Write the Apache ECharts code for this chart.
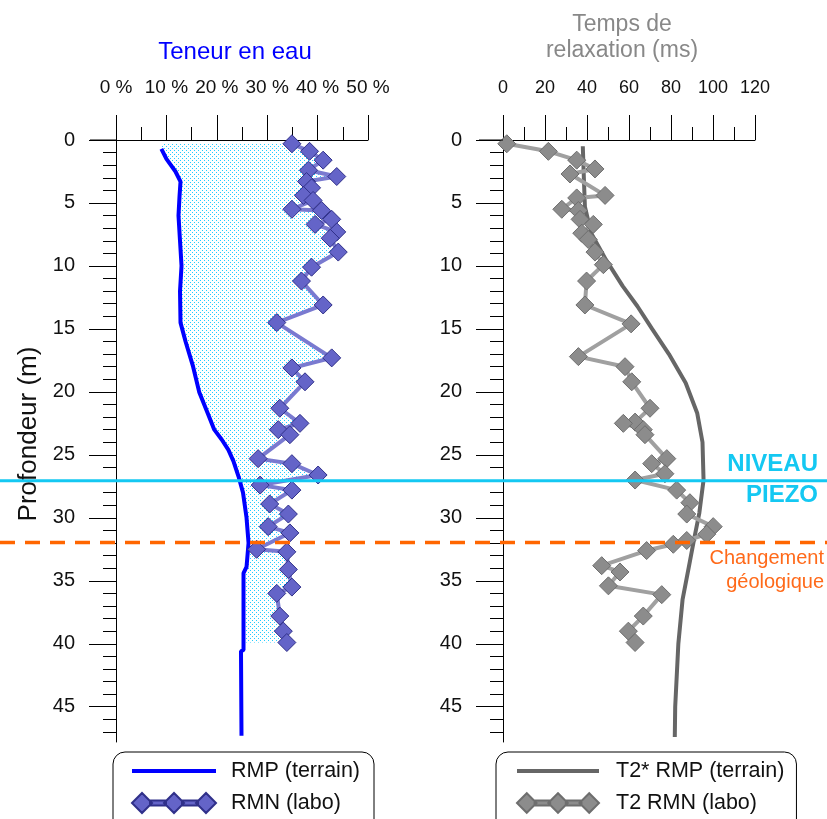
<!DOCTYPE html>
<html><head><meta charset="utf-8">
<script src="https://cdn.jsdelivr.net/npm/echarts@6/dist/echarts.min.js"></script>
<style>html,body{margin:0;padding:0;background:#fff}#c{width:827px;height:819px}</style>
</head><body><div id="c"></div>
<script>
// ---- data ----
const RMP_DEPTH = [0.7, 1.5, 2.5, 3.3, 4.5, 6, 8, 10, 12, 14.5, 16, 18, 20, 21.5, 23, 23.8, 24.6, 25.5, 26.7, 28, 30, 32, 33.9, 34.4, 40.5, 40.6, 47.3];
const RMP_WATER = [9.0, 10.0, 11.8, 12.8, 12.6, 12.4, 12.7, 13.0, 12.7, 12.8, 13.8, 15.3, 16.5, 18.0, 19.5, 21.0, 22.3, 23.3, 24.3, 25.2, 25.9, 26.3, 25.9, 25.3, 25.3, 24.8, 24.9];

const RMN_DEPTH = [0.3, 0.9, 1.6, 2.4, 2.9, 3.3, 3.8, 4.4, 4.8, 5.5, 5.6, 6.3, 6.7, 7.3, 7.8, 8.9, 10.1, 11.2, 13.1, 14.5, 17.3, 18.1, 19.2, 21.3, 22.5, 23.0, 23.4, 25.3, 25.7, 26.6, 27.4, 27.8, 28.9, 29.7, 30.7, 31.2, 32.5, 32.7, 34.1, 35.5, 36.0, 37.8, 39.0, 39.9];
const RMN_WATER = [34.9, 38.4, 41.1, 38.2, 43.8, 37.8, 38.8, 37.2, 39.1, 34.9, 40.8, 42.8, 39.5, 43.8, 42.5, 44.1, 38.8, 36.8, 41.1, 31.9, 42.8, 34.9, 37.5, 32.5, 36.5, 32.2, 34.5, 28.2, 34.9, 40.1, 28.6, 34.9, 30.5, 34.2, 30.2, 34.5, 27.9, 33.9, 34.2, 34.9, 31.9, 32.5, 33.2, 33.9];

const T2S_DEPTH = [0.5, 3, 5.3, 7.4, 9.5, 11.6, 13.2, 15, 17, 19.3, 21.7, 24, 27, 29.6, 31.7, 33.9, 36.5, 40, 45, 47.4];
const T2S_MS = [38, 38.5, 39, 42, 49, 57, 64, 71, 79, 87, 92.5, 95, 95.5, 93.5, 91, 88.5, 85.5, 83.5, 82, 81.8];

const T2_DEPTH = [0.3, 0.9, 1.6, 2.3, 2.7, 4.4, 4.6, 5.5, 5.6, 6.3, 6.7, 7.4, 7.9, 8.9, 9.9, 11.2, 13.1, 14.6, 17.2, 18.0, 19.2, 21.3, 22.4, 22.5, 23.0, 23.4, 25.3, 25.7, 26.5, 27.0, 27.8, 28.8, 29.7, 30.7, 31.3, 31.8, 32.1, 32.6, 33.8, 34.3, 35.4, 36.1, 37.8, 39.0, 39.9];
const T2_MS = [1.8, 21.6, 35.1, 43.8, 31.9, 48.6, 35.1, 28.0, 35.9, 36.7, 43.0, 37.5, 40.6, 43.8, 47.8, 39.8, 39.0, 61.0, 35.9, 58.1, 61.3, 70.0, 62.9, 57.3, 66.8, 67.6, 78.0, 70.8, 77.1, 62.9, 82.7, 89.0, 87.5, 100.1, 97.0, 87.5, 81.1, 68.4, 47.0, 55.7, 50.2, 75.6, 66.8, 59.7, 62.9];

const WATER_TICKS = [0, 10, 20, 30, 40, 50];
const T2_TICKS = [0, 20, 40, 60, 80, 100, 120];
const DEPTH_TICKS = [0, 5, 10, 15, 20, 25, 30, 35, 40, 45];
const DEPTH_MINOR = [0,1,2,3,4,5,6,7,8,9,10,11,12,13,14,15,16,17,18,19,20,21,22,23,24,25,26,27,28,29,30,31,32,33,34,35,36,37,38,39,40,41,42,43,44,45,46,47];
const DEPTH_MAX = 47.8;
const PIEZO_DEPTH = 27.05;
const GEOL_DEPTH = 31.95;
const FILL_BOTTOM = 39.9;

// ---- helpers ----
const FONT = '"Liberation Sans", Arial, sans-serif';
const zip = (a, b) => a.map((v, i) => [b[i], v]);
function interp(ds, vs, d) {
  if (d <= ds[0]) return vs[0];
  for (let i = 1; i < ds.length; i++) {
    if (d <= ds[i]) { const t = (d - ds[i-1]) / (ds[i] - ds[i-1]); return vs[i-1] + t * (vs[i] - vs[i-1]); }
  }
  return vs[vs.length - 1];
}
const pc = document.createElement('canvas'); pc.width = 4; pc.height = 4;
const g = pc.getContext('2d');
g.fillStyle = '#ffffff'; g.fillRect(0, 0, 4, 4);
g.fillStyle = '#22ccff'; g.fillRect(0, 0, 1, 1); g.fillRect(2, 2, 1, 1);

const DIAMOND3 = 'path://M0 10L10 0L20 10L10 20ZM32 10L42 0L52 10L42 20ZM64 10L74 0L84 10L74 20ZM18 7.5L34 7.5L34 12.5L18 12.5ZM50 7.5L66 7.5L66 12.5L50 12.5Z';
const LINEICON = 'path://M0 0L0.01 0L0.01 0.01ZM0 8L84 8L84 12L0 12ZM84 20L83.99 20L83.99 19.99Z';

function xAxisCfg(grid, max, interval, fmt, fs) {
  return {
    type: 'value', gridIndex: grid, position: 'top', min: 0, max: max, interval: interval,
    axisLine: { show: true, onZero: false, lineStyle: { color: '#000', width: 1 } },
    axisTick: { show: true, inside: false, length: 25, lineStyle: { color: '#000', width: 1 } },
    minorTick: { show: true, splitNumber: 2, length: 13, lineStyle: { color: '#000', width: 1 } },
    splitLine: { show: false }, minorSplitLine: { show: false },
    axisLabel: { formatter: fmt, fontSize: fs, margin: 43, color: '#111', fontFamily: FONT }
  };
}
function yMajor(grid, name) {
  return {
    type: 'value', gridIndex: grid, inverse: true, min: 0, max: DEPTH_MAX, position: 'left',
    axisLine: { show: true, onZero: false, lineStyle: { color: '#000', width: 1 } },
    axisTick: { show: true, inside: false, length: 27, customValues: DEPTH_TICKS, lineStyle: { color: '#000' } },
    axisLabel: { customValues: DEPTH_TICKS, fontSize: 20, margin: 41, color: '#111', fontFamily: FONT },
    splitLine: { show: false },
    name: name, nameLocation: 'middle', nameRotate: 90, nameGap: 74,
    nameTextStyle: { fontSize: 26, color: '#111', fontFamily: FONT, padding: [0, 0, 0, 14] }
  };
}
function yMinor(grid) {
  return {
    type: 'value', gridIndex: grid, inverse: true, min: 0, max: DEPTH_MAX, position: 'left',
    axisLine: { show: false },
    axisTick: { show: true, inside: false, length: 13, customValues: DEPTH_MINOR, lineStyle: { color: '#000' } },
    axisLabel: { show: false }, splitLine: { show: false }
  };
}

const chart = echarts.init(document.getElementById('c'), null, { renderer: 'canvas' });
const option = {
  animation: false,
  backgroundColor: '#fff',
  textStyle: { fontFamily: FONT },
  grid: [
    { left: 116, top: 140, width: 252, height: 602 },
    { left: 503, top: 140, width: 252, height: 602 }
  ],
  xAxis: [xAxisCfg(0, 50, 10, '{value} %', 19), xAxisCfg(1, 120, 20, '{value}', 18)],
  yAxis: [yMajor(0, 'Profondeur (m)'), yMinor(0), yMajor(1, ''), yMinor(1)],
  legend: [
    {
      left: 113, top: 752, height: 120, orient: 'vertical', itemWidth: 84, itemHeight: 20, itemGap: 10,
      padding: [8, 14, 20, 18], borderColor: '#000', borderWidth: 1, borderRadius: 12,
      textStyle: { fontSize: 21.5, color: '#111', fontFamily: FONT, padding: [0, 0, 0, 10] },
      data: [{ name: 'RMP (terrain)', icon: LINEICON }, { name: 'RMN (labo)', icon: DIAMOND3 }]
    },
    {
      left: 496, top: 752, height: 120, orient: 'vertical', itemWidth: 82, itemHeight: 20, itemGap: 10,
      padding: [8, 12, 20, 20], borderColor: '#000', borderWidth: 1, borderRadius: 12,
      textStyle: { fontSize: 21.5, color: '#111', fontFamily: FONT, padding: [0, 0, 0, 12] },
      data: [{ name: 'T2* RMP (terrain)', icon: LINEICON }, { name: 'T2 RMN (labo)', icon: DIAMOND3 }]
    }
  ],
  series: [
    {
      type: 'custom', name: 'fill', xAxisIndex: 0, yAxisIndex: 0, silent: true, z: 1,
      data: [[0, 0]],
      renderItem: function (params, api) {
        const top = RMN_DEPTH[0], bot = FILL_BOTTOM;
        const left = [api.coord([interp(RMP_DEPTH, RMP_WATER, top), top])];
        RMP_DEPTH.forEach((d, i) => { if (d > top && d < bot) left.push(api.coord([RMP_WATER[i], d])); });
        left.push(api.coord([interp(RMP_DEPTH, RMP_WATER, bot), bot]));
        const right = [];
        RMN_DEPTH.forEach((d, i) => { if (d <= bot) right.push(api.coord([RMN_WATER[i], d])); });
        return { type: 'polygon', shape: { points: left.concat(right.reverse()) },
                 style: { fill: { image: pc, repeat: 'repeat' }, stroke: null } };
      }
    },
    {
      type: 'line', name: 'RMP (terrain)', xAxisIndex: 0, yAxisIndex: 0, z: 3,
      data: zip(RMP_DEPTH, RMP_WATER), symbol: 'none', showSymbol: false,
      lineStyle: { color: '#0000ff', width: 4 }, itemStyle: { color: '#0000ff' }
    },
    {
      type: 'line', name: 'RMN (labo)', xAxisIndex: 0, yAxisIndex: 0, z: 4,
      data: zip(RMN_DEPTH, RMN_WATER), symbol: 'diamond', symbolSize: 18,
      lineStyle: { color: '#7a7ad0', width: 4 },
      itemStyle: { color: '#6464c8', borderColor: '#30308a', borderWidth: 1 }
    },
    {
      type: 'line', name: 'T2* RMP (terrain)', xAxisIndex: 1, yAxisIndex: 2, z: 3,
      data: zip(T2S_DEPTH, T2S_MS), symbol: 'none', showSymbol: false,
      lineStyle: { color: '#666666', width: 4 }, itemStyle: { color: '#666666' }
    },
    {
      type: 'line', name: 'T2 RMN (labo)', xAxisIndex: 1, yAxisIndex: 2, z: 4,
      data: zip(T2_DEPTH, T2_MS), symbol: 'diamond', symbolSize: 18,
      lineStyle: { color: '#a0a0a0', width: 4 },
      itemStyle: { color: '#8c8c8c', borderColor: '#6e6e6e', borderWidth: 1 }
    }
  ]
};
chart.setOption(option);

// overlays positioned through the chart's own scales
const W = chart.getWidth();
const yP = chart.convertToPixel({ yAxisIndex: 0 }, PIEZO_DEPTH);
const yG = chart.convertToPixel({ yAxisIndex: 0 }, GEOL_DEPTH);
const y0 = chart.convertToPixel({ yAxisIndex: 0 }, 0);
const xL0 = chart.convertToPixel({ xAxisIndex: 0 }, 0);
const xR0 = chart.convertToPixel({ xAxisIndex: 1 }, 0);
const xLc = (chart.convertToPixel({ xAxisIndex: 0 }, 0) + chart.convertToPixel({ xAxisIndex: 0 }, 50)) / 2;
const xRc = (chart.convertToPixel({ xAxisIndex: 1 }, 0) + chart.convertToPixel({ xAxisIndex: 1 }, 120)) / 2;
const txt = (text, x, y, color, size, align, weight) => ({
  type: 'text', x: x, y: y, z: 200,
  style: { text: text, fill: color, font: (weight || 'normal') + ' ' + size + 'px ' + FONT, textAlign: align, textVerticalAlign: 'middle' }
});
chart.setOption({
  graphic: [
    { type: 'line', z: 150, shape: { x1: xL0 - 26, y1: y0, x2: xL0, y2: y0 }, style: { stroke: '#000', lineWidth: 1 } },
    { type: 'line', z: 150, shape: { x1: xR0 - 24, y1: y0, x2: xR0, y2: y0 }, style: { stroke: '#000', lineWidth: 1 } },
    { type: 'line', z: 150, shape: { x1: 0, y1: yP, x2: W, y2: yP }, style: { stroke: '#14c8f2', lineWidth: 3 } },
    { type: 'line', z: 150, shape: { x1: 0, y1: yG, x2: W, y2: yG }, style: { stroke: '#ff6600', lineWidth: 3.5, lineDash: [15, 10] } },
    txt('Teneur en eau', xLc - 7, 52, '#0000ff', 24, 'center'),
    txt('Temps de', xRc - 7, 25, '#888888', 23, 'center'),
    txt('relaxation (ms)', xRc - 7, 51, '#888888', 23, 'center'),
    txt('NIVEAU', 818, yP - 16, '#14c8f2', 24, 'right', 'bold'),
    txt('PIEZO', 818, yP + 15, '#14c8f2', 24, 'right', 'bold'),
    txt('Changement', 824, yG + 16, '#ff6a1a', 20, 'right'),
    txt('géologique', 824, yG + 40, '#ff6a1a', 20, 'right')
  ]
});
</script>
</body></html>
